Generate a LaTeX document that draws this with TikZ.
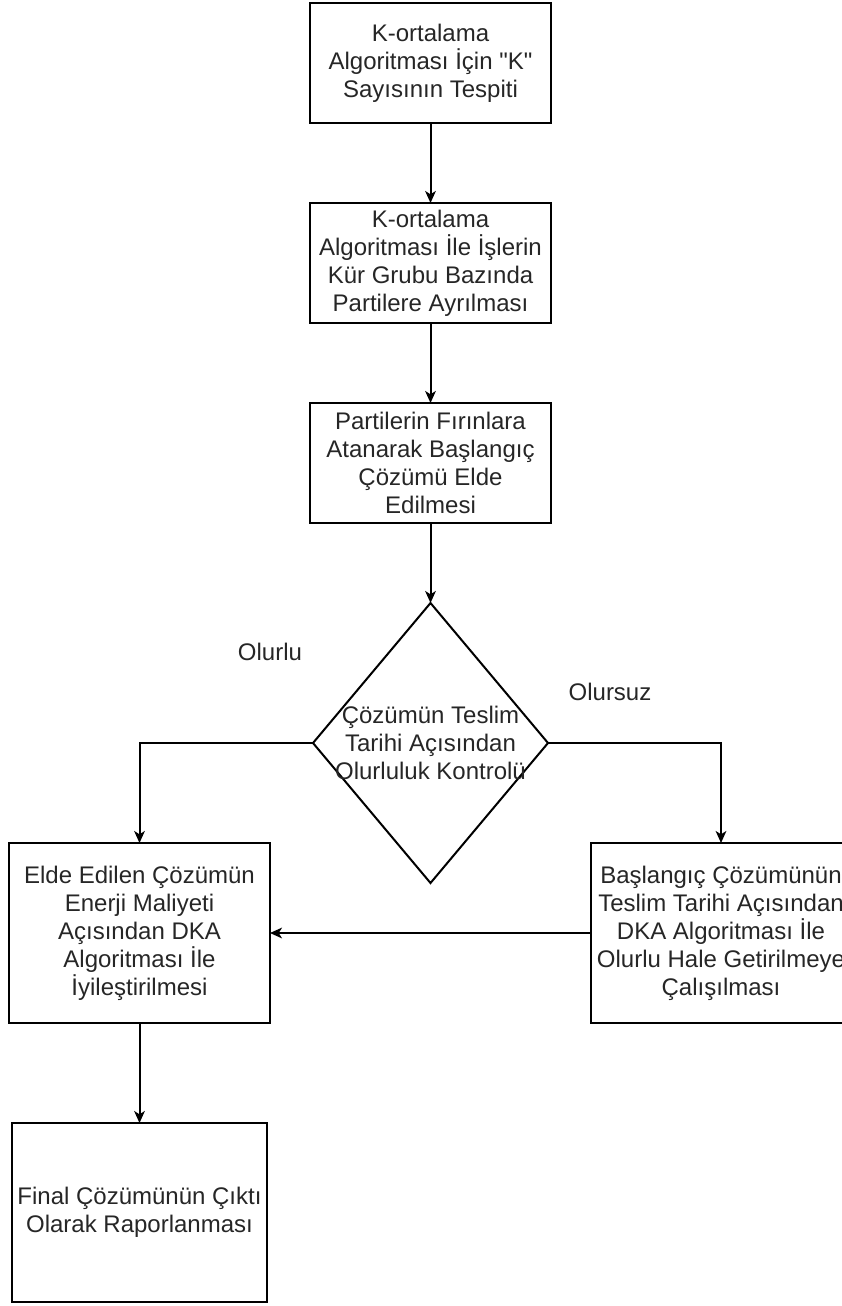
\documentclass[tikz,border=0pt]{standalone}
\usepackage{fontspec}
\setmainfont{Liberation Sans}
\usetikzlibrary{positioning,shapes.geometric,arrows.meta}

\begin{document}
\begin{tikzpicture}[x=0.75pt,y=-0.75pt,
    line width=1.5pt,
    >={Stealth[length=9pt,width=8pt,inset=2.5pt]},
    every node/.style={font=\fontsize{18pt}{21pt}\selectfont, align=center, text=black!85},
    stepbox/.style={draw, rectangle, inner sep=0pt, outer sep=0pt},
    node distance=60pt]
\useasboundingbox (0,0) rectangle (842,1306);

%Nodes
\node[stepbox, minimum width=180.75pt, minimum height=90pt] (kbox) at (430.5,63)
    {K-ortalama\\Algoritması İçin \textquotedbl K\textquotedbl\\Sayısının Tespiti};
\node[stepbox, minimum width=180.75pt, minimum height=90pt] (kmeans) [below=of kbox]
    {K-ortalama\\Algoritması İle İşlerin\\Kür Grubu Bazında\\Partilere Ayrılması};
\node[stepbox, minimum width=180.75pt, minimum height=90pt] (initsol) [below=of kmeans]
    {Partilerin Fırınlara\\Atanarak Başlangıç\\Çözümü Elde\\Edilmesi};
\node[draw, diamond, minimum width=176.25pt, minimum height=210pt,
    inner sep=0pt, outer sep=0pt] (check) [below=of initsol] {};
\node[]     (checktext)     at (check.center)
    {Çözümün Teslim\\Tarihi Açısından\\Olurluluk Kontrolü};
\node[stepbox, minimum width=195.75pt, minimum height=135pt] (improve) at (139.5,933)
    {Elde Edilen Çözümün\\Enerji Maliyeti\\Açısından DKA\\Algoritması İle\\İyileştirilmesi};
\node[stepbox, minimum width=195pt, minimum height=135pt] (repair) at (721,933)
    {Başlangıç Çözümünün\\Teslim Tarihi Açısından\\DKA Algoritması İle\\Olurlu Hale Getirilmeye\\Çalışılması};
\node[stepbox, minimum width=191.25pt, minimum height=134.25pt] (report) [below=75pt of improve]
    {Final Çözümünün Çıktı\\Olarak Raporlanması};
\node[]     (feasible)      at (270,652)    {Olurlu};
\node[]     (infeasible)    at (610,692)    {Olursuz};

%Lines
\draw[->]   (kbox.south) -- (kmeans.north);
\draw[->]   (kmeans.south) -- (initsol.north);
\draw[->]   (initsol.south) -- (check.north);
\draw[->]   (check.west) -| (improve.north);
\draw[->]   (check.east) -| (repair.north);
\draw[->]   (repair.west) -- (improve.east);
\draw[->]   (improve.south) -- (report.north);
\end{tikzpicture}
\end{document}
